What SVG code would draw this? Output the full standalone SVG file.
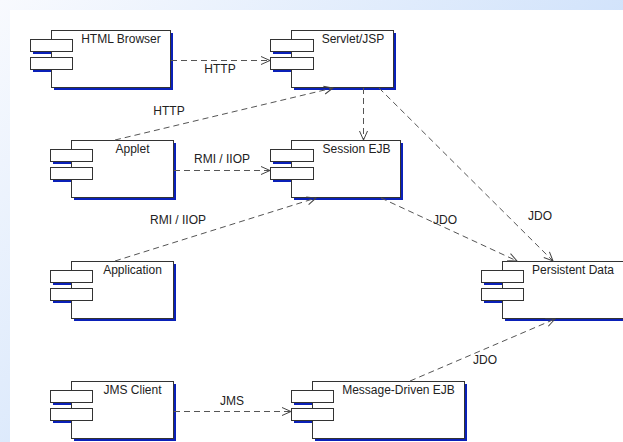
<svg xmlns="http://www.w3.org/2000/svg" width="623" height="442" viewBox="0 0 623 442">
<defs>
<linearGradient id="bg" x1="0" y1="0" x2="500" y2="500" gradientUnits="userSpaceOnUse">
<stop offset="0" stop-color="#f8fafe"/>
<stop offset="1" stop-color="#bcd6f9"/>
</linearGradient>
<marker id="arr" markerUnits="userSpaceOnUse" markerWidth="12" markerHeight="12" viewBox="-10 -6 12 12" refX="0" refY="0" orient="auto">
<path d="M -9,-4 L 0,0 L -9,4" fill="none" stroke="#444" stroke-width="1"/>
</marker>
</defs>
<style>
.sh{fill:#0a20b8;}
.box{fill:#fff;stroke:#333;stroke-width:1;}
.nm{font-family:"Liberation Sans",Arial,sans-serif;font-size:12px;fill:#222;text-anchor:middle;}
.lb{font-family:"Liberation Sans",Arial,sans-serif;font-size:12px;fill:#222;text-anchor:middle;}
.cn{fill:none;stroke:#555;stroke-width:1;stroke-dasharray:6 4;marker-end:url(#arr);}
</style>
<rect x="0" y="0" width="623" height="442" fill="url(#bg)"/>
<rect x="10" y="10" width="613" height="432" fill="#fff"/>

<g id="html-browser">
<rect class="sh" x="33" y="42" width="42" height="12"/><rect class="sh" x="33" y="60" width="42" height="12"/>
<rect class="sh" x="54" y="33" width="119" height="57"/>
<rect class="box" x="51.5" y="30.5" width="119" height="57"/>
<rect class="box" x="30.5" y="39.5" width="42" height="12"/><rect class="box" x="30.5" y="57.5" width="42" height="12"/>
<text class="nm" x="121" y="43">HTML Browser</text>
</g>

<g id="servlet-jsp">
<rect class="sh" x="273" y="42" width="42" height="12"/><rect class="sh" x="273" y="60" width="42" height="12"/>
<rect class="sh" x="294" y="33" width="102" height="57"/>
<rect class="box" x="291.5" y="30.5" width="102" height="57"/>
<rect class="box" x="270.5" y="39.5" width="43" height="12"/><rect class="box" x="270.5" y="57.5" width="43" height="12"/>
<text class="nm" x="353" y="43">Servlet/JSP</text>
</g>

<g id="applet">
<rect class="sh" x="53" y="152" width="42" height="12"/><rect class="sh" x="53" y="170" width="42" height="12"/>
<rect class="sh" x="74" y="143" width="102" height="57"/>
<rect class="box" x="71.5" y="140.5" width="102" height="57"/>
<rect class="box" x="50.5" y="149.5" width="42" height="12"/><rect class="box" x="50.5" y="167.5" width="42" height="12"/>
<text class="nm" x="132.5" y="153">Applet</text>
</g>

<g id="session-ejb">
<rect class="sh" x="273" y="152" width="42" height="12"/><rect class="sh" x="273" y="170" width="42" height="12"/>
<rect class="sh" x="294" y="143" width="109" height="57"/>
<rect class="box" x="291.5" y="140.5" width="109" height="57"/>
<rect class="box" x="270.5" y="149.5" width="43" height="12"/><rect class="box" x="270.5" y="167.5" width="43" height="12"/>
<text class="nm" x="356.5" y="153">Session EJB</text>
</g>

<g id="application">
<rect class="sh" x="53" y="273" width="42" height="12"/><rect class="sh" x="53" y="291" width="42" height="12"/>
<rect class="sh" x="74" y="264" width="102" height="57"/>
<rect class="box" x="71.5" y="261.5" width="102" height="57"/>
<rect class="box" x="50.5" y="270.5" width="42" height="12"/><rect class="box" x="50.5" y="288.5" width="42" height="12"/>
<text class="nm" x="132.5" y="274">Application</text>
</g>

<g id="persistent-data">
<rect class="sh" x="484" y="273" width="42" height="12"/><rect class="sh" x="484" y="291" width="42" height="12"/>
<rect class="sh" x="505" y="264" width="130" height="57"/>
<rect class="box" x="502.5" y="261.5" width="130" height="57"/>
<rect class="box" x="481.5" y="270.5" width="42" height="12"/><rect class="box" x="481.5" y="288.5" width="42" height="12"/>
<text class="nm" x="573" y="274">Persistent Data</text>
</g>

<g id="jms-client">
<rect class="sh" x="53" y="393" width="42" height="12"/><rect class="sh" x="53" y="411" width="42" height="12"/>
<rect class="sh" x="74" y="384" width="102" height="57"/>
<rect class="box" x="71.5" y="381.5" width="102" height="57"/>
<rect class="box" x="50.5" y="390.5" width="42" height="12"/><rect class="box" x="50.5" y="408.5" width="42" height="12"/>
<text class="nm" x="132.5" y="394">JMS Client</text>
</g>

<g id="message-driven-ejb">
<rect class="sh" x="294" y="393" width="42" height="12"/><rect class="sh" x="294" y="411" width="42" height="12"/>
<rect class="sh" x="315" y="384" width="152" height="57"/>
<rect class="box" x="312.5" y="381.5" width="152" height="57"/>
<rect class="box" x="291.5" y="390.5" width="42" height="12"/><rect class="box" x="291.5" y="408.5" width="42" height="12"/>
<text class="nm" x="398.5" y="394">Message-Driven EJB</text>
</g>

<g id="connectors">
<line class="cn" x1="171" y1="60.5" x2="270" y2="60.5"/>
<line class="cn" x1="115" y1="140" x2="333" y2="88"/>
<line class="cn" x1="174" y1="170.5" x2="270" y2="170.5"/>
<line class="cn" x1="115" y1="261" x2="316" y2="198"/>
<line class="cn" x1="363.5" y1="88" x2="363.5" y2="140"/>
<line class="cn" x1="379" y1="88" x2="553" y2="261"/>
<line class="cn" x1="381" y1="198" x2="517" y2="261"/>
<line class="cn" x1="410" y1="381" x2="555" y2="319"/>
<line class="cn" x1="174" y1="411.5" x2="291" y2="411.5"/>
<text class="lb" x="220" y="73">HTTP</text>
<text class="lb" x="169" y="115">HTTP</text>
<text class="lb" x="222" y="163">RMI / IIOP</text>
<text class="lb" x="178" y="224">RMI / IIOP</text>
<text class="lb" x="540" y="220">JDO</text>
<text class="lb" x="445" y="224">JDO</text>
<text class="lb" x="485" y="364">JDO</text>
<text class="lb" x="232" y="405">JMS</text>
</g>
</svg>
